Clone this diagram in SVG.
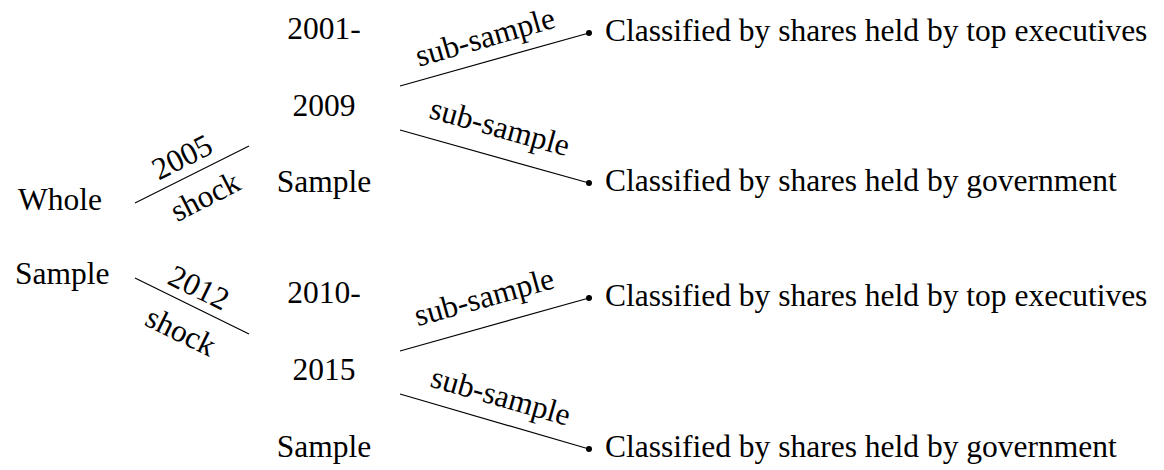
<svg xmlns="http://www.w3.org/2000/svg" width="1164" height="470" viewBox="0 0 1164 470">
<style>
text{font-family:"Liberation Serif","Times New Roman",serif;fill:#000;font-size:31.5px}
.m{text-anchor:middle}
line{stroke:#000;stroke-width:1.2}
.dot{fill:#000}
</style>
<rect width="1164" height="470" fill="#fff"/>
<g id="whole"><text x="18" y="210">Whole</text><text x="15" y="284">Sample</text></g>
<g id="s1"><text class="m" x="324" y="39">2001-</text><text class="m" x="324" y="116">2009</text><text class="m" x="324" y="192">Sample</text></g>
<g id="s2"><text class="m" x="324" y="303">2010-</text><text class="m" x="324" y="380">2015</text><text class="m" x="324" y="457">Sample</text></g>
<g id="c1"><circle class="dot" cx="589" cy="33" r="3"/><text x="605" y="41">Classified by shares held by top executives</text></g>
<g id="c2"><circle class="dot" cx="589" cy="183" r="3"/><text x="605" y="191">Classified by shares held by government</text></g>
<g id="c3"><circle class="dot" cx="589" cy="298" r="3"/><text x="605" y="306">Classified by shares held by top executives</text></g>
<g id="c4"><circle class="dot" cx="589" cy="449" r="3"/><text x="605" y="457">Classified by shares held by government</text></g>
<g id="connectors">
<line x1="135" y1="203" x2="249" y2="146"/>
<line x1="135" y1="278" x2="249" y2="334"/>
<line x1="400" y1="86" x2="589" y2="33"/>
<line x1="400" y1="130" x2="589" y2="183"/>
<line x1="400" y1="351" x2="589" y2="298"/>
<line x1="400" y1="394" x2="589" y2="449"/>
<text class="m" transform="translate(182,157) rotate(-27)" y="10.6">2005</text>
<text class="m" transform="translate(205,196) rotate(-27)" y="10.8">shock</text>
<text class="m" transform="translate(199,287.5) rotate(26)" y="10.6">2012</text>
<text class="m" transform="translate(181,331) rotate(26)" y="10.8">shock</text>
<text class="m" transform="translate(486,40) rotate(-16)" y="7.3">sub-sample</text>
<text class="m" transform="translate(499,130) rotate(15.6)" y="7.3">sub-sample</text>
<text class="m" transform="translate(485,300) rotate(-15.6)" y="7.3">sub-sample</text>
<text class="m" transform="translate(500,399) rotate(16)" y="7.3">sub-sample</text>
</g>
</svg>
